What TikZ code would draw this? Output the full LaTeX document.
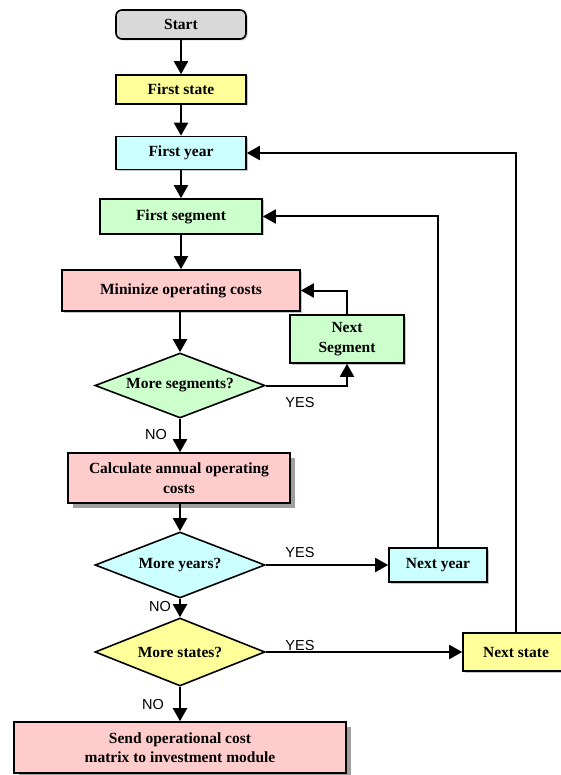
\documentclass[tikz,border=0pt]{standalone}
\usepackage{fontspec}
\setmainfont{Liberation Serif}
\newfontfamily\answerfont{Liberation Sans}
\usetikzlibrary{shapes.geometric,arrows.meta,shadows}
\definecolor{startgray}{HTML}{D9D9D9}
\definecolor{stateyellow}{HTML}{FFFF99}
\definecolor{yearcyan}{HTML}{CCFFFF}
\definecolor{seggreen}{HTML}{CCFFCC}
\definecolor{costpink}{HTML}{FFCCCC}
\begin{document}
\begin{tikzpicture}[x=1pt,y=-1pt,
  every node/.style={font=\fontsize{15.5}{19.5}\selectfont\bfseries},
  box/.style={draw, line width=1.6pt, inner sep=0pt, align=center},
  softshadow/.style={drop shadow={shadow xshift=1.5pt, shadow yshift=-1.5pt, opacity=0.45, fill=gray}},
  deepshadow/.style={drop shadow={shadow xshift=5pt, shadow yshift=-5pt, opacity=1, fill=gray!75}},
  decision/.style={draw, diamond, line width=1.6pt, inner sep=0pt},
  flow/.style={line width=2pt, -{Triangle[length=13pt,width=14pt]}},
  answer/.style={font=\fontsize{14.5}{16}\selectfont\answerfont}
]
\useasboundingbox (0,0) rectangle (560,775);

% main column
\node[box, rounded corners=6pt, fill=startgray, minimum width=130, minimum height=29, softshadow] (start) at (181,24.5) {Start};
\node[box, fill=stateyellow, minimum width=130, minimum height=29, softshadow] (firststate) at (181,89.5) {First state};
\node[box, fill=yearcyan, minimum width=130, minimum height=33, softshadow] (firstyear) at (181,153) {First year};
\node[box, fill=seggreen, minimum width=162, minimum height=35, softshadow] (firstseg) at (181,216.5) {First segment};
\node[box, fill=costpink, minimum width=238, minimum height=41, softshadow] (minimize) at (181,290.5) {Mininize operating costs};
\node[decision, fill=seggreen, minimum width=170, minimum height=65, label={[name=dsegtext]center:More segments?}] (dseg) at (180,385.5) {};
\node[box, fill=costpink, minimum width=222, minimum height=50, deepshadow] (calc) at (179,478) {Calculate annual operating\\costs};
\node[decision, fill=yearcyan, minimum width=170, minimum height=66, label={[name=dyeartext]center:More years?}] (dyear) at (180,565) {};
\node[decision, fill=stateyellow, minimum width=170, minimum height=68, label={[name=dstatetext]center:More states?}] (dstate) at (180,652) {};
\node[box, fill=costpink, minimum width=332, minimum height=51, deepshadow] (send) at (180,747.5) {Send operational cost\\matrix to investment module};

% loop boxes
\node[box, fill=seggreen, minimum width=114, minimum height=48, softshadow] (nextseg) at (347,339) {Next\\Segment};
\node[box, fill=yearcyan, minimum width=98, minimum height=34, softshadow] (nextyear) at (438,565) {Next year};
\node[box, fill=stateyellow, minimum width=106, minimum height=38, softshadow] (nextstate) at (516,652) {Next state};

% forward flow
\draw[flow] (start) -- (firststate);
\draw[flow] (firststate) -- (firstyear);
\draw[flow] (firstyear) -- (firstseg);
\draw[flow] (firstseg) -- (minimize);
\draw[flow] (minimize.south -| dseg.north) -- (dseg.north);
\draw[flow] (dseg.south) -- (dseg.south |- calc.north);
\draw[flow] (calc.south -| dyear.north) -- (dyear.north);
\draw[flow] (dyear.south) -- (dstate.north);
\draw[flow] (dstate.south) -- (send.north);

% loops back
\draw[flow] (dseg.east) -| (nextseg.south);
\draw[flow] (nextseg.north) |- (minimize.east);
\draw[flow] (dyear.east) -- (nextyear.west);
\draw[flow] (nextyear.north) |- (firstseg.east);
\draw[flow] (dstate.east) -- (nextstate.west);
\draw[flow] (nextstate.north) |- (firstyear.east);

% branch labels
\node[answer] (yesseg) at (300,403) {YES};
\node[answer] (noseg) at (156,435) {NO};
\node[answer] (yesyear) at (300,553) {YES};
\node[answer] (noyear) at (160,607) {NO};
\node[answer] (yesstate) at (300,646) {YES};
\node[answer] (nostate) at (153,704) {NO};
\end{tikzpicture}
\end{document}
